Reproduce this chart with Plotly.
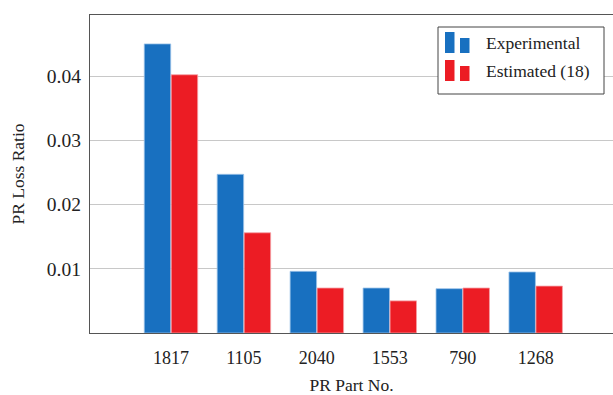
import plotly.graph_objects as go

# Data: PR loss ratio per part number
parts = ["1817", "1105", "2040", "1553", "790", "1268"]
experimental = [0.0450, 0.0247, 0.0096, 0.0070, 0.0069, 0.0095]
estimated = [0.0402, 0.0156, 0.0070, 0.0050, 0.0070, 0.0073]
series_names = ["Experimental", "Estimated (18)"]
y_ticks = [0.01, 0.02, 0.03, 0.04]

BLUE = "#1870c0"
RED = "#ec1c24"
FONT = "Liberation Serif"
TXT = "#222"

W, H = 613, 395
L, R, T, B = 90, 0, 15, 62

fig = go.Figure()
fig.add_trace(go.Bar(
    x=list(range(len(parts))), y=experimental, name=series_names[0],
    marker=dict(color=BLUE, line=dict(color="#9cc3e8", width=0.8)),
    showlegend=False,
))
fig.add_trace(go.Bar(
    x=list(range(len(parts))), y=estimated, name=series_names[1],
    marker=dict(color=RED, line=dict(color="#f5a0a4", width=0.8)),
    showlegend=False,
))

# pixel -> paper coordinate helpers for the legend box
pw, ph = W - L - R, H - T - B
def px(x):
    return (x - L) / pw
def py(y):
    return 1 - (y - T) / ph

shapes = []
annotations = []
# legend frame
shapes.append(dict(type="rect", xref="paper", yref="paper",
                   x0=px(438), x1=px(604), y0=py(94), y1=py(27),
                   line=dict(color="#444", width=1), fillcolor="white", layer="above"))
# legend glyphs: a tall and a short bar per series
for i, (name, col) in enumerate(zip(series_names, [BLUE, RED])):
    base = 53 + i * 28
    shapes.append(dict(type="rect", xref="paper", yref="paper",
                       x0=px(445), x1=px(454.5), y0=py(base), y1=py(base - 21),
                       line=dict(width=0), fillcolor=col, layer="above"))
    shapes.append(dict(type="rect", xref="paper", yref="paper",
                       x0=px(460), x1=px(469.5), y0=py(base), y1=py(base - 15),
                       line=dict(width=0), fillcolor=col, layer="above"))
    annotations.append(dict(xref="paper", yref="paper", x=px(484), y=py(base - 10),
                            text=name, showarrow=False, xanchor="left", yanchor="middle",
                            font=dict(family=FONT, size=17.5, color=TXT)))

fig.update_layout(
    width=W, height=H,
    margin=dict(l=L, r=R, t=T, b=B),
    paper_bgcolor="white", plot_bgcolor="white",
    barmode="group", bargap=0.26, bargroupgap=0.02,
    font=dict(family=FONT, size=17.5, color=TXT),
    shapes=shapes, annotations=annotations,
    xaxis=dict(
        tickmode="array", tickvals=list(range(len(parts))), ticktext=parts,
        range=[-1.11, 6.06], showgrid=False, zeroline=False,
        showline=True, linecolor="#555", linewidth=1.3, mirror=True,
        ticks="", ticklabelstandoff=8,
        tickfont=dict(family=FONT, size=18, color=TXT),
        title=dict(text="PR Part No.", font=dict(family=FONT, size=17.5, color=TXT), standoff=14),
    ),
    yaxis=dict(
        range=[0, 0.0495], tickmode="array", tickvals=y_ticks,
        tickformat=".2f", showgrid=True, gridcolor="#c8c8c8", gridwidth=1,
        zeroline=False, showline=True, linecolor="#555", linewidth=1.3,
        ticks="", ticklabelstandoff=4,
        tickfont=dict(family=FONT, size=19.5, color=TXT),
        title=dict(text="PR Loss Ratio", font=dict(family=FONT, size=17.5, color=TXT), standoff=17),
    ),
)

fig.write_html("out.html")
